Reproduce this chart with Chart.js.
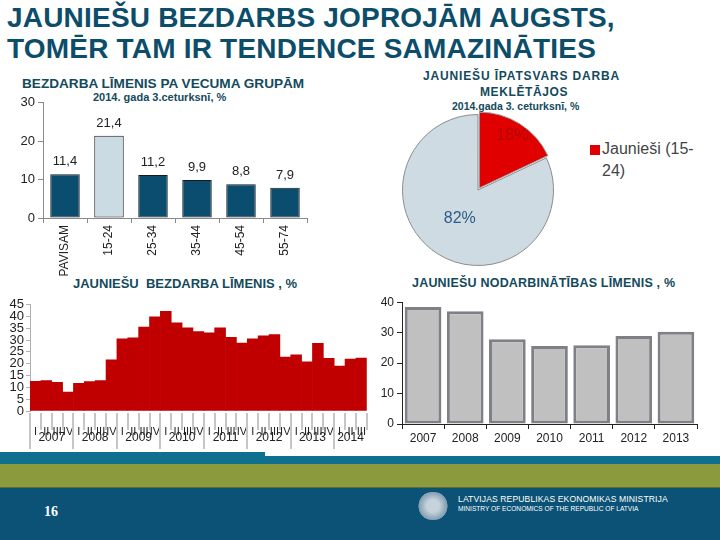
<!DOCTYPE html>
<html>
<head>
<meta charset="utf-8">
<script src="https://cdn.jsdelivr.net/npm/chart.js@4.4.1/dist/chart.umd.min.js"></script>
<style>
  body { margin:0; width:720px; height:540px; overflow:hidden; background:#fff; position:relative; font-family:"Liberation Sans", Arial, sans-serif; }
  .abs { position:absolute; }
  .title { left:7px; top:3px; font-size:28px; line-height:30.5px; letter-spacing:0.2px; font-weight:bold; color:#0c4d6a; white-space:nowrap; }
  .ct { font-weight:bold; color:#134a5c; white-space:nowrap; }
  canvas { display:block; }
</style>
</head>
<body>
<div class="abs title">JAUNIEŠU BEZDARBS JOPROJĀM AUGSTS,<br>TOMĒR TAM IR TENDENCE SAMAZINĀTIES</div>

<div class="abs ct" style="left:22px;top:76px;font-size:13.6px;">BEZDARBA LĪMENIS PA VECUMA GRUPĀM</div>
<div class="abs ct" style="left:93px;top:91px;font-size:11px;">2014. gada 3.ceturksnī, %</div>

<div class="abs ct" style="left:423px;top:69px;font-size:12px;letter-spacing:0.85px;">JAUNIEŠU ĪPATSVARS DARBA</div>
<div class="abs ct" style="left:480px;top:85px;font-size:12px;letter-spacing:0.6px;">MEKLĒTĀJOS</div>
<div class="abs ct" style="left:452px;top:100px;font-size:10.5px;">2014.gada 3. ceturksnī, %</div>

<div class="abs ct" style="left:73px;top:276px;font-size:13px;">JAUNIEŠU&nbsp; BEZDARBA LĪMENIS , %</div>
<div class="abs ct" style="left:412px;top:276px;font-size:12.5px;letter-spacing:0.2px;">JAUNIEŠU NODARBINĀTĪBAS LĪMENIS , %</div>

<div class="abs" style="left:0;top:92px;width:320px;height:190px;"><canvas id="ageChart"></canvas></div>
<div class="abs" style="left:397px;top:109px;width:162px;height:162px;"><canvas id="pieChart"></canvas></div>
<div class="abs" style="left:590px;top:145px;width:10px;height:10px;background:#e00000;"></div>
<div class="abs" style="left:602px;top:138px;font-size:16px;line-height:22px;color:#444;">Jaunieši (15-<br>24)</div>
<div class="abs" style="left:0;top:296px;width:372px;height:156px;"><canvas id="youthChart"></canvas></div>
<div class="abs" style="left:372px;top:292px;width:340px;height:156px;"><canvas id="emplChart"></canvas></div>

<!-- footer -->
<div class="abs" style="left:0;top:452px;width:265px;height:12px;background:#0f6f8f;"></div>
<div class="abs" style="left:0;top:456px;width:720px;height:8px;background:#0f6f8f;"></div>
<div class="abs" style="left:0;top:464px;width:720px;height:23px;background:#8b9a3c;border-bottom:1px solid #5f6d35;"></div>
<div class="abs" style="left:0;top:488px;width:720px;height:52px;background:#0b5276;"></div>
<div class="abs" style="left:44px;top:504px;font-size:14px;font-weight:bold;color:#fff;font-family:'Liberation Serif',serif;">16</div>
<div class="abs" style="left:418px;top:492px;width:30px;height:28px;border-radius:45%;background:radial-gradient(circle,#c7d3dc 30%,#7f9bb0 70%,rgba(11,82,118,0) 72%);"></div>
<div class="abs" style="left:458px;top:494px;font-size:8.6px;color:#fff;white-space:nowrap;letter-spacing:0.1px;">LATVIJAS REPUBLIKAS EKONOMIKAS MINISTRIJA</div>
<div class="abs" style="left:458px;top:505px;font-size:6.6px;color:#fff;white-space:nowrap;">MINISTRY OF ECONOMICS OF THE REPUBLIC OF LATVIA</div>

<script>
// age-group unemployment, 2014 Q3
const ageGroups = ['PAVISAM', '15-24', '25-34', '35-44', '45-54', '55-74'];
const ageRates = [11.4, 21.4, 11.2, 9.9, 8.8, 7.9];

// share of youth among job seekers
const pieLabels = ['Jaunieši (15-24)', 'Pārējie'];
const pieShares = [18, 82];

// youth unemployment by quarter, 2007 I .. 2014 III
const quarterLabels = ['I','II','III','IV','I','II','III','IV','I','II','III','IV','I','II','III','IV',
  'I','II','III','IV','I','II','III','IV','I','II','III','IV','I','II','III'];
const quarterYears = ['2007','2008','2009','2010','2011','2012','2013','2014'];
const youthRates = [12.5, 12.9, 12.1, 8.0, 11.7, 12.4, 12.9, 21.6,
  30.5, 30.9, 35.5, 39.8, 42.1, 37.3, 35.1, 33.6,
  33.0, 35.1, 31.1, 28.7, 30.5, 31.8, 32.3, 22.8,
  23.7, 20.8, 28.6, 22.3, 19.0, 21.9, 22.4];

// youth employment rate by year
const emplYears = ['2007', '2008', '2009', '2010', '2011', '2012', '2013'];
const emplRates = [38.4, 37.0, 27.8, 25.6, 25.9, 28.9, 30.3];

const tickFont = { family: '"Liberation Sans", Arial, sans-serif', size: 12 };
const axisGray = '#8a8a8a';

const valueLabels = {
  id: 'valueLabels',
  afterDatasetsDraw(chart) {
    const ctx = chart.ctx;
    const meta = chart.getDatasetMeta(0);
    ctx.save();
    ctx.font = '13px "Liberation Sans", Arial, sans-serif';
    ctx.fillStyle = '#222';
    ctx.textAlign = 'center';
    ctx.textBaseline = 'bottom';
    meta.data.forEach((bar, i) => {
      ctx.fillText(ageRates[i].toFixed(1).replace('.', ','), bar.x, bar.y - 6);
    });
    ctx.restore();
  }
};

new Chart(document.getElementById('ageChart'), {
  type: 'bar',
  data: {
    labels: ageGroups,
    datasets: [{
      data: ageRates,
      backgroundColor: ageGroups.map((g, i) => i === 1 ? '#cbdbe4' : '#0b4d6e'),
      borderColor: '#1a1a1a',
      borderWidth: 1,
      borderSkipped: false,
      barPercentage: 0.67,
      categoryPercentage: 1
    }]
  },
  options: {
    responsive: true, maintainAspectRatio: false, animation: false,
    layout: { padding: { top: 8, right: 13, left: 0, bottom: 0 }, autoPadding: false },
    plugins: { legend: { display: false }, tooltip: { enabled: false } },
    scales: {
      x: {
        grid: { offset: true, drawOnChartArea: false, tickLength: 5, color: axisGray },
        border: { color: axisGray },
        ticks: { font: tickFont, color: '#222', minRotation: 90, maxRotation: 90, autoSkip: false, padding: 2 },
        afterFit: s => { s.height = 64; }
      },
      y: {
        min: 0, max: 30,
        grid: { drawOnChartArea: false, tickLength: 5, color: axisGray },
        border: { color: axisGray },
        ticks: { stepSize: 10, font: { ...tickFont, size: 13 }, color: '#222', padding: 3 },
        afterFit: s => { s.width = 43; }
      }
    }
  },
  plugins: [valueLabels]
});

const pieText = {
  id: 'pieText',
  afterDatasetsDraw(chart) {
    const ctx = chart.ctx;
    const meta = chart.getDatasetMeta(0);
    const place = [0.72, 0.45];
    const colors = ['#b80000', '#2b5d86'];
    ctx.save();
    ctx.font = '16px "Liberation Sans", Arial, sans-serif';
    ctx.textAlign = 'center';
    ctx.textBaseline = 'middle';
    meta.data.forEach((arc, i) => {
      const p = arc.getProps(['x', 'y', 'startAngle', 'endAngle', 'outerRadius']);
      const mid = (p.startAngle + p.endAngle) / 2;
      const off = chart.data.datasets[0].offset[i];
      const r = p.outerRadius * place[i] + off;
      ctx.fillStyle = colors[i];
      ctx.fillText(pieShares[i] + '%', p.x + Math.cos(mid) * r, p.y + Math.sin(mid) * r);
    });
    ctx.restore();
  }
};

new Chart(document.getElementById('pieChart'), {
  type: 'pie',
  data: {
    labels: pieLabels,
    datasets: [{
      data: pieShares,
      backgroundColor: ['#e00000', '#cfdbe3'],
      borderColor: ['#9a9a9a', '#8c8c8c'],
      borderWidth: 1,
      offset: [10, 0]
    }]
  },
  options: {
    responsive: true, maintainAspectRatio: false, animation: false,
    layout: { padding: 0 },
    plugins: { legend: { display: false }, tooltip: { enabled: false } }
  },
  plugins: [pieText]
});

const yearRow = {
  id: 'yearRow',
  afterDraw(chart) {
    const x = chart.scales.x;
    const ctx = chart.ctx;
    const b = chart.chartArea.bottom;
    const half = (x.getPixelForValue(1) - x.getPixelForValue(0)) / 2;
    ctx.save();
    ctx.strokeStyle = '#c6c6c6';
    ctx.lineWidth = 2;
    for (let i = 0; i <= quarterLabels.length; i++) {
      const px = Math.round(x.getPixelForValue(i) - half);
      ctx.beginPath();
      ctx.moveTo(px, b + 2);
      ctx.lineTo(px, b + (i % 4 === 0 ? 38 : 19));
      ctx.stroke();
    }
    ctx.font = '12px "Liberation Sans", Arial, sans-serif';
    ctx.fillStyle = '#222';
    ctx.textAlign = 'center';
    ctx.textBaseline = 'middle';
    quarterYears.forEach((yr, k) => {
      const first = k * 4;
      const last = Math.min(first + 3, quarterLabels.length - 1);
      ctx.fillText(yr, (x.getPixelForValue(first) + x.getPixelForValue(last)) / 2, b + 27);
    });
    ctx.restore();
  }
};

new Chart(document.getElementById('youthChart'), {
  type: 'bar',
  data: {
    labels: quarterLabels,
    datasets: [{
      data: youthRates,
      backgroundColor: '#c00000',
      borderWidth: 0,
      barPercentage: 1,
      categoryPercentage: 1
    }]
  },
  options: {
    responsive: true, maintainAspectRatio: false, animation: false,
    layout: { padding: { top: 6, right: 4, left: 0, bottom: 0 }, autoPadding: false },
    plugins: { legend: { display: false }, tooltip: { enabled: false } },
    scales: {
      x: {
        grid: { display: false },
        border: { display: false },
        ticks: { font: { ...tickFont, size: 11 }, color: '#222', minRotation: 0, maxRotation: 0, autoSkip: false, padding: 6 },
        afterFit: s => { s.height = 41; }
      },
      y: {
        min: 0, max: 45,
        grid: { drawOnChartArea: false, tickLength: 4, color: '#b0b0b0' },
        border: { color: '#b0b0b0' },
        ticks: { stepSize: 5, autoSkip: false, font: { ...tickFont, size: 13, lineHeight: 1 }, color: '#222', padding: 2 },
        afterFit: s => { s.width = 30; }
      }
    }
  },
  plugins: [yearRow]
});

new Chart(document.getElementById('emplChart'), {
  type: 'bar',
  data: {
    labels: emplYears,
    datasets: [{
      data: emplRates,
      backgroundColor: '#c0c0c0',
      borderColor: '#7f7f88',
      borderWidth: 3,
      borderSkipped: false,
      barPercentage: 0.87,
      categoryPercentage: 1
    }]
  },
  options: {
    responsive: true, maintainAspectRatio: false, animation: false,
    layout: { padding: { top: 7, right: 15, left: 0, bottom: 0 }, autoPadding: false },
    plugins: { legend: { display: false }, tooltip: { enabled: false } },
    scales: {
      x: {
        grid: { offset: true, drawOnChartArea: false, tickLength: 5, color: '#222' },
        border: { color: '#222' },
        ticks: { font: tickFont, color: '#222', maxRotation: 0, autoSkip: false, padding: 2 },
        afterFit: s => { s.height = 24; }
      },
      y: {
        min: 0, max: 40,
        grid: { drawOnChartArea: false, tickLength: 5, color: '#222' },
        border: { color: '#222' },
        ticks: { stepSize: 10, font: tickFont, color: '#222', padding: 3 },
        afterFit: s => { s.width = 30; }
      }
    }
  }
});
</script>
</body>
</html>
